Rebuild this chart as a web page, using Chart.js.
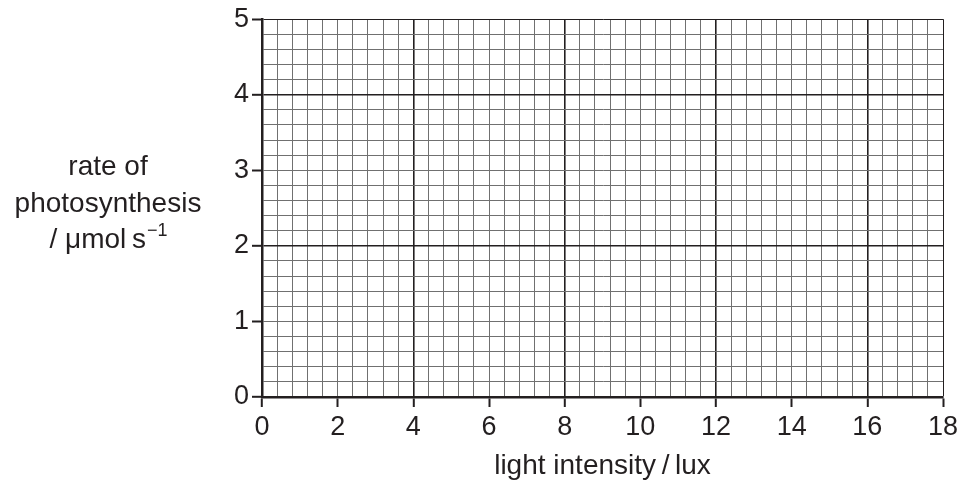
<!DOCTYPE html>
<html lang="en">
<head>
  <meta charset="utf-8">
  <title>rate of photosynthesis vs light intensity</title>
  <script src="https://cdn.jsdelivr.net/npm/chart.js@4.4.1/dist/chart.umd.min.js"></script>
  <style>
    html, body { margin: 0; padding: 0; background: #fff; }
    canvas { display: block; }
  </style>
</head>
<body>
  <canvas id="chart-grid" width="963" height="489"></canvas>
  <script>
    // axis ranges and tick labels
    var xTickLabels = [0, 2, 4, 6, 8, 10, 12, 14, 16, 18];
    var yTickLabels = [0, 1, 2, 3, 4, 5];
    var xMinorStep = 0.4;   // small squares
    var yMinorStep = 0.2;
    var xMajorStep = 4;     // heavy lines
    var yMajorStep = 2;
    var xTitle = 'light intensity\u2009/\u2009lux';
    var yTitleLines = ['rate of', 'photosynthesis'];

    var ink = '#231f20';
    var minorColor = '#707070';
    var fontFamily = '"Liberation Sans", Arial, sans-serif';

    function isMultiple(v, step) {
      var q = v / step;
      return Math.abs(q - Math.round(q)) < 1e-6;
    }

    function minorTicks(max, step) {
      var out = [];
      var n = Math.round(max / step);
      for (var i = 0; i <= n; i++) {
        out.push({ value: Math.round(i * step * 1000) / 1000 });
      }
      return out;
    }

    function gridOpts(labels, major, max) {
      return {
        color: function (c) {
          var v = c.tick ? c.tick.value : 0;
          if (isMultiple(v, major) || Math.abs(v - max) < 1e-6) return ink;
          return minorColor;
        },
        lineWidth: function (c) {
          var v = c.tick ? c.tick.value : 0;
          return isMultiple(v, major) ? 1.6 : 1;
        },
        drawTicks: true,
        tickLength: 10,
        tickWidth: 2,
        tickColor: function (c) {
          var v = c.tick ? c.tick.value : 0;
          return labels.indexOf(Math.round(v * 1000) / 1000) >= 0 ? ink : 'rgba(0,0,0,0)';
        }
      };
    }

    // y axis title drawn horizontally, left of the axis
    var yTitlePlugin = {
      id: 'yTitle',
      afterDraw: function (chart) {
        var ctx = chart.ctx;
        var cx = 108;
        ctx.save();
        ctx.fillStyle = ink;
        ctx.textBaseline = 'alphabetic';
        ctx.textAlign = 'center';
        ctx.font = '28px ' + fontFamily;
        ctx.fillText(yTitleLines[0], cx, 175);
        ctx.fillText(yTitleLines[1], cx, 212);

        // "/ μmol s⁻¹" with a real superscript
        var main = '/ \u03bcmol\u2009s';
        var sup = '\u22121';
        ctx.textAlign = 'left';
        ctx.font = '28px ' + fontFamily;
        var w1 = ctx.measureText(main).width;
        ctx.font = '18px ' + fontFamily;
        var w2 = ctx.measureText(sup).width;
        var x0 = cx - (w1 + w2) / 2;
        ctx.font = '28px ' + fontFamily;
        ctx.fillText(main, x0, 248);
        ctx.font = '18px ' + fontFamily;
        ctx.fillText(sup, x0 + w1 + 1, 236);
        ctx.restore();
      }
    };

    new Chart(document.getElementById('chart-grid'), {
      type: 'scatter',
      data: { datasets: [{ data: [] }] },
      options: {
        responsive: false,
        animation: false,
        devicePixelRatio: 1,
        layout: { padding: { left: 0, right: 20, top: 19, bottom: 0 } },
        plugins: { legend: { display: false }, tooltip: { enabled: false } },
        scales: {
          x: {
            type: 'linear',
            min: 0,
            max: 18,
            afterBuildTicks: function (s) { s.ticks = minorTicks(18, xMinorStep); },
            afterFit: function (s) { s.height = 92; },
            ticks: {
              autoSkip: false,
              maxRotation: 0,
              padding: 4,
              color: ink,
              font: { family: fontFamily, size: 27 },
              callback: function (v) {
                var r = Math.round(v * 1000) / 1000;
                return xTickLabels.indexOf(r) >= 0 ? String(r) : '';
              }
            },
            grid: gridOpts(xTickLabels, xMajorStep, 18),
            border: { display: true, color: ink, width: 2.5 },
            title: {
              display: true,
              text: xTitle,
              color: ink,
              font: { family: fontFamily, size: 28 },
              padding: { top: 0, bottom: 6 }
            }
          },
          y: {
            type: 'linear',
            min: 0,
            max: 5,
            afterBuildTicks: function (s) { s.ticks = minorTicks(5, yMinorStep); },
            afterFit: function (s) { s.width = 262; },
            ticks: {
              autoSkip: false,
              padding: 3,
              color: ink,
              font: { family: fontFamily, size: 27 },
              callback: function (v) {
                var r = Math.round(v * 1000) / 1000;
                return yTickLabels.indexOf(r) >= 0 ? String(r) : '';
              }
            },
            grid: gridOpts(yTickLabels, yMajorStep, 5),
            border: { display: true, color: ink, width: 2.5 }
          }
        }
      },
      plugins: [yTitlePlugin]
    });
  </script>
</body>
</html>
